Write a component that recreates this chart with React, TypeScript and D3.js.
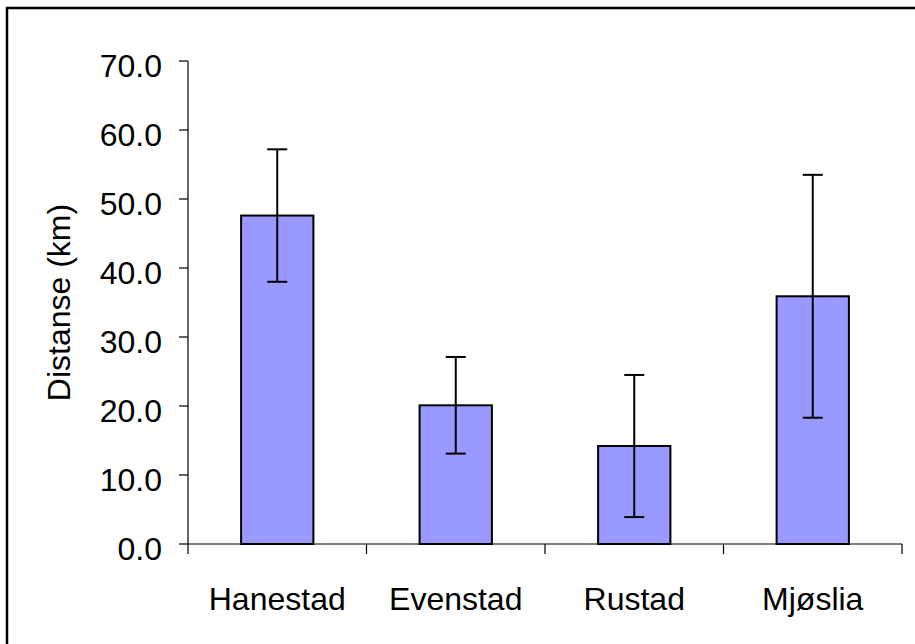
import React from "react";
import * as d3 from "d3";

const categories = ["Hanestad", "Evenstad", "Rustad", "Mjøslia"];
const means = [47.6, 20.1, 14.2, 35.9];
const errors = [9.6, 7.0, 10.3, 17.6];
const yTicks = [0, 10, 20, 30, 40, 50, 60, 70];
const yTitle = "Distanse (km)";

const W = 915;
const H = 644;
const left = 188;
const right = 902;
const top = 61;
const bottom = 544;
const FONT = "'Liberation Sans', Arial, sans-serif";

export default function App() {
  const x = d3
    .scaleBand<string>()
    .domain(categories)
    .range([left, right])
    .paddingInner(0.595)
    .paddingOuter(0.2975);
  const xOuter = d3.scaleBand<string>().domain(categories).range([left, right]).padding(0);
  const y = d3.scaleLinear().domain([0, 70]).range([bottom, top]);
  const fmt = d3.format(".1f");
  const capHalf = 10;

  const boundaries = [left, ...categories.map((c) => (xOuter(c) as number) + xOuter.bandwidth())];

  return (
    <svg
      width={W}
      height={H}
      style={{ position: "absolute", left: 0, top: 0, background: "#fff" }}
      fontFamily={FONT}
    >
      <rect x={0} y={0} width={W} height={H} fill="#fff" />
      {/* outer frame (left & top visible) */}
      <line x1={7} y1={7} x2={7} y2={H + 5} stroke="#000" strokeWidth={2.5} />
      <line x1={6} y1={8} x2={W + 5} y2={8} stroke="#000" strokeWidth={2.5} />

      {/* bars */}
      {categories.map((c, i) => (
        <rect
          key={c}
          x={x(c)}
          y={y(means[i])}
          width={x.bandwidth()}
          height={y(0) - y(means[i])}
          fill="#9999FF"
          stroke="#000"
          strokeWidth={2}
        />
      ))}

      {/* error bars */}
      {categories.map((c, i) => {
        const cx = (x(c) as number) + x.bandwidth() / 2;
        const hi = y(means[i] + errors[i]);
        const lo = y(means[i] - errors[i]);
        return (
          <g key={c} stroke="#000" strokeWidth={2}>
            <line x1={cx} x2={cx} y1={hi} y2={lo} />
            <line x1={cx - capHalf} x2={cx + capHalf} y1={hi} y2={hi} />
            <line x1={cx - capHalf} x2={cx + capHalf} y1={lo} y2={lo} />
          </g>
        );
      })}

      {/* y axis */}
      <line x1={left} x2={left} y1={top} y2={bottom} stroke="#000" strokeWidth={1.2} />
      {yTicks.map((t) => (
        <g key={t}>
          <line x1={left - 9} x2={left} y1={y(t)} y2={y(t)} stroke="#000" strokeWidth={1.2} />
          <text
            x={162}
            y={y(t) + 16}
            textAnchor="end"
            fontSize={32}
            fill="#000"
          >
            {fmt(t)}
          </text>
        </g>
      ))}

      {/* x axis */}
      <line x1={left} x2={right} y1={bottom} y2={bottom} stroke="#000" strokeWidth={1.2} />
      {boundaries.map((b, i) => (
        <line key={i} x1={b} x2={b} y1={bottom} y2={bottom + 10} stroke="#000" strokeWidth={1.2} />
      ))}
      {categories.map((c) => (
        <text
          key={c}
          x={(xOuter(c) as number) + xOuter.bandwidth() / 2}
          y={610}
          textAnchor="middle"
          fontSize={32}
          fill="#000"
        >
          {c}
        </text>
      ))}

      {/* y title */}
      <text
        transform={`translate(70, ${(top + bottom) / 2}) rotate(-90)`}
        textAnchor="middle"
        fontSize={32}
        fill="#000"
      >
        {yTitle}
      </text>
    </svg>
  );
}
